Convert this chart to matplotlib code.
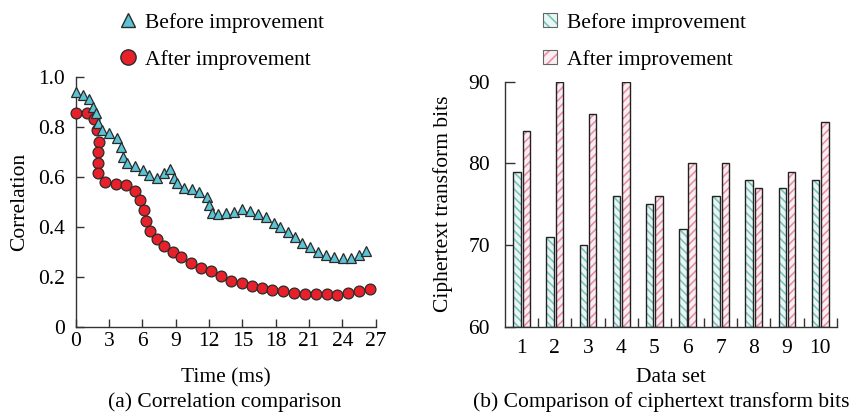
import matplotlib
matplotlib.use("Agg")
import matplotlib.pyplot as plt
import numpy as np
from matplotlib.patches import Patch
from matplotlib.lines import Line2D

plt.rcParams['font.family'] = ['Liberation Serif', 'DejaVu Serif']
plt.rcParams['font.size'] = 15.5
plt.rcParams['hatch.linewidth'] = 1.2

# (a) correlation vs time
before_t = [0.0, 0.62, 1.22, 1.58, 1.82, 2.03, 2.33, 3.02, 3.68, 4.07, 4.28, 4.58,
            5.33, 6.02, 6.62, 7.35, 7.95, 8.48, 8.85, 9.15, 9.75, 10.44, 11.13,
            11.79, 12.03, 12.24, 12.84, 13.5, 14.25, 14.97, 15.69, 16.41, 17.13,
            17.8, 18.4, 19.12, 19.75, 20.35, 21.06, 21.76, 22.5, 23.25, 24.05,
            24.8, 25.5, 26.1]
before_corr = [0.94, 0.927, 0.91, 0.88, 0.854, 0.816, 0.787, 0.774, 0.754, 0.717,
               0.68, 0.654, 0.643, 0.627, 0.607, 0.594, 0.614, 0.63, 0.594, 0.574,
               0.554, 0.55, 0.54, 0.52, 0.487, 0.454, 0.451, 0.456, 0.46, 0.47,
               0.464, 0.451, 0.437, 0.413, 0.397, 0.377, 0.358, 0.335, 0.319,
               0.299, 0.285, 0.278, 0.273, 0.273, 0.287, 0.304]
after_t = [0.0, 1.04, 1.67, 1.88, 2.09, 2.03, 1.97, 1.97, 2.63, 3.59, 4.49, 5.33,
           5.78, 6.14, 6.32, 6.68, 7.28, 7.98, 8.73, 9.51, 10.35, 11.25, 12.18,
           13.08, 14.01, 14.94, 15.84, 16.74, 17.7, 18.63, 19.6, 20.65, 21.6,
           22.6, 23.56, 24.55, 25.5, 26.45]
after_corr = [0.856, 0.856, 0.83, 0.787, 0.74, 0.70, 0.656, 0.614, 0.58, 0.571,
              0.567, 0.544, 0.507, 0.467, 0.424, 0.384, 0.351, 0.324, 0.30, 0.278,
              0.256, 0.236, 0.224, 0.203, 0.184, 0.174, 0.163, 0.156, 0.147,
              0.144, 0.136, 0.131, 0.131, 0.131, 0.127, 0.136, 0.144, 0.15]
time_ticks = [0, 3, 6, 9, 12, 15, 18, 21, 24, 27]
corr_ticks = [0, 0.2, 0.4, 0.6, 0.8, 1.0]
corr_tick_labels = ["0", "0.2", "0.4", "0.6", "0.8", "1.0"]

# (b) ciphertext transform bits per data set
datasets = [1, 2, 3, 4, 5, 6, 7, 8, 9, 10]
bits_before = [79, 71, 70, 76, 75, 72, 76, 78, 77, 78]
bits_after = [84, 90, 86, 90, 76, 80, 80, 77, 79, 85]
bits_ticks = [60, 70, 80, 90]

series_names = ["Before improvement", "After improvement"]

tri_color = '#5bc3d3'
dot_color = '#e8202a'
mk_edge = '#2a2a2a'
fill_before, hatch_before = '#e8f6f5', '#7cc4bc'
fill_after, hatch_after = '#fdeef2', '#e890a8'
spine_color = '#333333'

fig = plt.figure(figsize=(8.56, 4.16), dpi=100)
ax1 = fig.add_axes([0.0886, 0.2147, 0.3503, 0.601])
ax2 = fig.add_axes([0.590, 0.2147, 0.3875, 0.589])

for ax in (ax1, ax2):
    ax.spines['top'].set_visible(False)
    ax.spines['right'].set_visible(False)
    for s in ('left', 'bottom'):
        ax.spines[s].set_color(spine_color)
        ax.spines[s].set_linewidth(1.0)

# ---- left panel
ax1.plot(after_t, after_corr, linestyle='none', marker='o', markersize=7.8,
         markerfacecolor=dot_color, markeredgecolor=mk_edge, markeredgewidth=0.9,
         clip_on=False, zorder=3)
ax1.plot(before_t, before_corr, linestyle='none', marker='^', markersize=7.4,
         markerfacecolor=tri_color, markeredgecolor=mk_edge, markeredgewidth=0.9,
         clip_on=False, zorder=4)
ax1.set_xlim(0, 27)
ax1.set_ylim(0, 1.0)
ax1.set_xticks(time_ticks)
ax1.set_yticks(corr_ticks)
ax1.set_yticklabels(corr_tick_labels)
ax1.tick_params(axis='both', direction='in', length=6, width=1.0, color=spine_color)
ax1.tick_params(axis='x', pad=4)
ax1.tick_params(axis='y', pad=8)
ax1.set_xlabel("Time (ms)", labelpad=12)
ax1.set_ylabel("Correlation", labelpad=6)

leg1_handles = [
    Line2D([], [], linestyle='none', marker='^', markersize=10, markerfacecolor=tri_color,
           markeredgecolor=mk_edge, markeredgewidth=1.0),
    Line2D([], [], linestyle='none', marker='o', markersize=11, markerfacecolor=dot_color,
           markeredgecolor=mk_edge, markeredgewidth=1.0),
]
fig.legend(leg1_handles, series_names, loc='upper left', bbox_to_anchor=(0.137, 0.969),
           bbox_transform=fig.transFigure, frameon=False, borderpad=0, borderaxespad=0,
           handlelength=1.0, handletextpad=0.3, labelspacing=0.78)

# ---- right panel
x = np.array(datasets)
w = 0.225
off = 0.14
for xs, vals, fc, hc, hatch in ((x - off, bits_before, fill_before, hatch_before, '\\\\\\\\'),
                                (x + off, bits_after, fill_after, hatch_after, '////')):
    ax2.bar(xs, np.array(vals) - 60, width=w, bottom=60, color=fc, edgecolor=hc,
            hatch=hatch, linewidth=0, zorder=2)
    ax2.bar(xs, np.array(vals) - 60, width=w, bottom=60, fill=False,
            edgecolor='#222222', linewidth=1.0, zorder=3)
ax2.set_xlim(0.5, 10.5)
ax2.set_ylim(60, 90)
ax2.set_xticks(datasets)
ax2.set_xticks(np.arange(1.5, 11, 1.0), minor=True)
ax2.set_yticks(bits_ticks)
ax2.tick_params(axis='x', which='major', length=0, pad=9)
ax2.tick_params(axis='x', which='minor', direction='in', length=6.5, width=1.0, color=spine_color)
ax2.tick_params(axis='y', direction='in', length=7, width=1.0, color=spine_color, pad=11)
ax2.set_xlabel("Data set", labelpad=7)
ax2.set_ylabel("Ciphertext transform bits", labelpad=11)

leg2_handles = [
    (Patch(facecolor=fill_before, edgecolor=hatch_before, hatch='\\\\\\', linewidth=0),
     Patch(fill=False, edgecolor='#666666', linewidth=0.8)),
    (Patch(facecolor=fill_after, edgecolor=hatch_after, hatch='///', linewidth=0),
     Patch(fill=False, edgecolor='#666666', linewidth=0.8)),
]
fig.legend(leg2_handles, series_names, loc='upper left', bbox_to_anchor=(0.634, 0.969),
           bbox_transform=fig.transFigure, frameon=False, borderpad=0, borderaxespad=0,
           handlelength=0.65, handleheight=0.65, handletextpad=0.47, labelspacing=0.78)

fig.text(0.262, 0.034, "(a) Correlation comparison", ha='center', va='center')
fig.text(0.773, 0.034, "(b) Comparison of ciphertext transform bits", ha='center', va='center')

fig.savefig("out.png", dpi=100)
